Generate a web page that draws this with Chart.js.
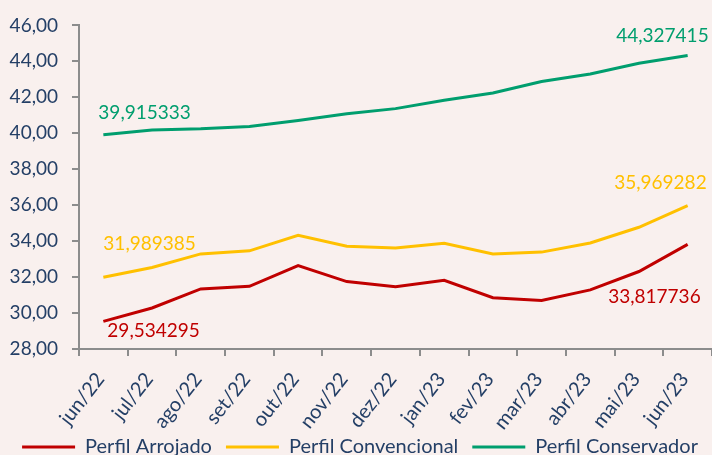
<!DOCTYPE html>
<html lang="pt-BR">
<head>
  <meta charset="UTF-8" />
  <title>Perfis</title>
  <script src="https://cdn.jsdelivr.net/npm/chart.js"></script>
  <style>
    html, body { margin: 0; padding: 0; background: #f9f0ee; }
  </style>
</head>
<body>
  <canvas id="chart" width="712" height="455"></canvas>

  <script>
    // data
    const months = ['jun/22', 'jul/22', 'ago/22', 'set/22', 'out/22', 'nov/22', 'dez/22',
                    'jan/23', 'fev/23', 'mar/23', 'abr/23', 'mai/23', 'jun/23'];
    const arrojado     = [29.534295, 30.28, 31.34, 31.49, 32.64, 31.75, 31.47, 31.82, 30.85, 30.70, 31.29, 32.31, 33.817736];
    const convencional = [31.989385, 32.53, 33.29, 33.46, 34.32, 33.72, 33.62, 33.88, 33.29, 33.39, 33.90, 34.77, 35.969282];
    const conservador  = [39.915333, 40.18, 40.25, 40.38, 40.71, 41.09, 41.37, 41.84, 42.24, 42.88, 43.30, 43.89, 44.327415];
    const yMin = 28, yMax = 46, yStep = 2;

    const textColor = '#243f66';
    const axisColor = '#8c8c8c';
    const font = { family: 'Lato', size: 19 };
    const bigFont = { family: 'Lato', size: 20 };

    // where the first / last value labels sit, relative to their point
    const endLabels = [
      [{ dx: 4, dy: 9, align: 'left' }, { dx: 13, dy: 52, align: 'right' }],
      [{ dx: 0, dy: -33, align: 'left' }, { dx: 19, dy: -23, align: 'right' }],
      [{ dx: -5, dy: -22, align: 'left' }, { dx: 21, dy: -20, align: 'right' }]
    ];

    const fmt = v => v.toFixed(6).replace('.', ',');

    const endLabelPlugin = {
      id: 'endLabels',
      afterLayout(chart) {
        // the original legend sits a bit right of centre
        const lg = chart.legend;
        if (lg) { lg.left += 4; lg.right += 4; }
        // month labels run a little into the legend strip, don't clip them
        chart.scales.x.bottom = chart.height;
      },
      afterDatasetsDraw(chart) {
        const ctx = chart.ctx;
        ctx.save();
        ctx.font = `${font.size}px ${font.family}`;
        ctx.textBaseline = 'middle';
        chart.data.datasets.forEach((ds, i) => {
          const pts = chart.getDatasetMeta(i).data;
          [0, pts.length - 1].forEach((idx, k) => {
            const o = endLabels[i][k];
            ctx.fillStyle = ds.borderColor;
            ctx.textAlign = o.align;
            ctx.fillText(fmt(ds.data[idx]), pts[idx].x + o.dx, pts[idx].y + o.dy);
          });
        });
        ctx.restore();
      }
    };

    const line = (label, data, color) => ({
      label, data,
      borderColor: color,
      backgroundColor: color,
      borderWidth: 3,
      pointRadius: 0,
      tension: 0
    });

    new Chart(document.getElementById('chart'), {
      type: 'line',
      data: {
        labels: months,
        datasets: [
          line('Perfil Arrojado', arrojado, '#c00000'),
          line('Perfil Convencional', convencional, '#ffc000'),
          line('Perfil Conservador', conservador, '#009e6e')
        ]
      },
      options: {
        responsive: false,
        animation: false,
        layout: { padding: { top: 21, left: 0, right: 0, bottom: -12 } },
        scales: {
          x: {
            offset: true,
            grid: { drawOnChartArea: false, drawTicks: true, tickLength: 7, color: axisColor, lineWidth: 2, offset: true },
            border: { color: axisColor, width: 2 },
            ticks: { color: textColor, font: bigFont, minRotation: 52, maxRotation: 52, autoSkip: false,
                     padding: 12, labelOffset: -3 },
            afterFit: s => { s.height = 74; s.paddingLeft = 0; s.paddingRight = 0; }
          },
          y: {
            min: yMin, max: yMax,
            grid: { drawOnChartArea: false, drawTicks: true, tickLength: 7, color: axisColor, lineWidth: 2 },
            border: { color: axisColor, width: 2 },
            ticks: { stepSize: yStep, color: textColor, font, padding: 14,
                     callback: v => v.toFixed(2).replace('.', ',') },
            afterFit: s => { s.width = 79; }
          }
        },
        plugins: {
          tooltip: { enabled: false },
          legend: {
            position: 'bottom',
            labels: {
              color: textColor, font: bigFont, boxWidth: 53, boxHeight: 3, padding: 14,
              generateLabels: chart => Chart.defaults.plugins.legend.labels.generateLabels(chart)
                .map(l => ({ ...l, lineWidth: 0 }))
            }
          }
        }
      },
      plugins: [endLabelPlugin]
    });
  </script>
</body>
</html>
